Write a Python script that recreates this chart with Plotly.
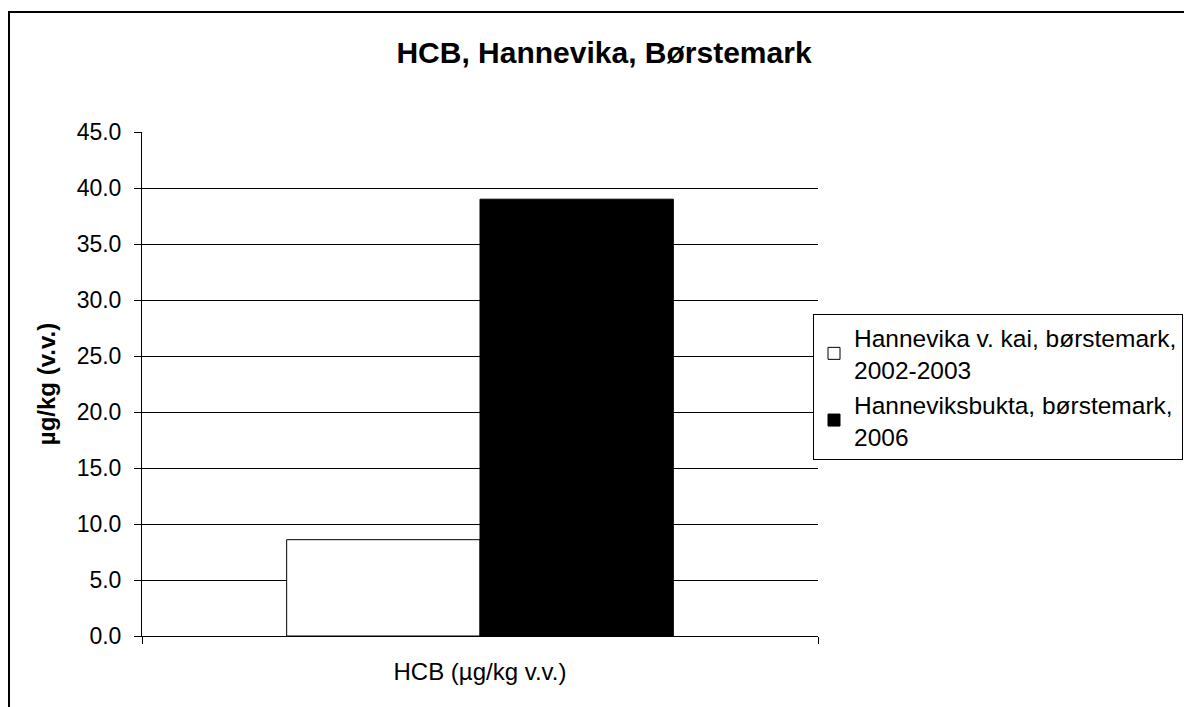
import plotly.graph_objects as go

# DATA
category = ['HCB (µg/kg v.v.)']
series_names = ['Hannevika v. kai, børstemark,<br>2002-2003',
                'Hanneviksbukta, børstemark,<br>2006']
series_values = [[8.6], [39.0]]
series_colors = ['#FFFFFF', '#000000']
y_ticks = [0, 5, 10, 15, 20, 25, 30, 35, 40, 45]

W, H = 1184, 707
L, R, T, B = 142, 818, 132, 636

fig = go.Figure()
for name, vals, col in zip(series_names, series_values, series_colors):
    fig.add_trace(go.Bar(x=category, y=vals, name=name,
                         marker=dict(color=col, line=dict(color='#000000', width=1))))

fig.update_layout(
    width=W, height=H,
    barmode='group', bargap=0.428, bargroupgap=0,
    plot_bgcolor='white', paper_bgcolor='white',
    font=dict(family='Liberation Sans, Arial', size=23, color='black'),
    margin=dict(l=L, r=W - R, t=T, b=H - B, autoexpand=False),
    title=dict(text='<b>HCB, Hannevika, Børstemark</b>', x=604 / W, xanchor='center',
               y=1 - 52 / H, yanchor='middle', font=dict(size=30)),
    legend=dict(x=(813 - L) / (R - L), y=(B - 314) / (B - T),
                xanchor='left', yanchor='top',
                bordercolor='black', borderwidth=1, bgcolor='white',
                font=dict(size=24.5), tracegroupgap=4, itemwidth=30),
    showlegend=True,
)

fig.update_yaxes(range=[0, 45], tickvals=y_ticks, ticktext=['%.1f' % v for v in y_ticks],
                 showgrid=True, gridcolor='black', gridwidth=1,
                 showline=True, linecolor='black', linewidth=1,
                 ticks='outside', ticklen=7, tickcolor='black', zeroline=False,
                 tickfont=dict(size=23), ticklabelstandoff=8,
                 title=dict(text='<b>µg/kg (v.v.)</b>', standoff=14, font=dict(size=24)))
fig.update_xaxes(showline=True, linecolor='black', linewidth=1,
                 ticks='outside', tickson='boundaries', ticklen=7, tickcolor='black',
                 showgrid=False, tickfont=dict(size=24), ticklabelstandoff=14)

# outer chart border, running off the right and bottom edges
fig.add_shape(type='rect', xref='paper', yref='paper',
              x0=(9 - L) / (R - L), x1=2, y0=-1, y1=(B - 12) / (B - T),
              line=dict(color='black', width=2), fillcolor='rgba(0,0,0,0)', layer='below')

# drop the default body margin so the figure fills the window exactly
fig.write_html('out.html', config={'displayModeBar': False},
               post_script="document.body.style.margin='0';document.body.style.overflow='hidden';")
